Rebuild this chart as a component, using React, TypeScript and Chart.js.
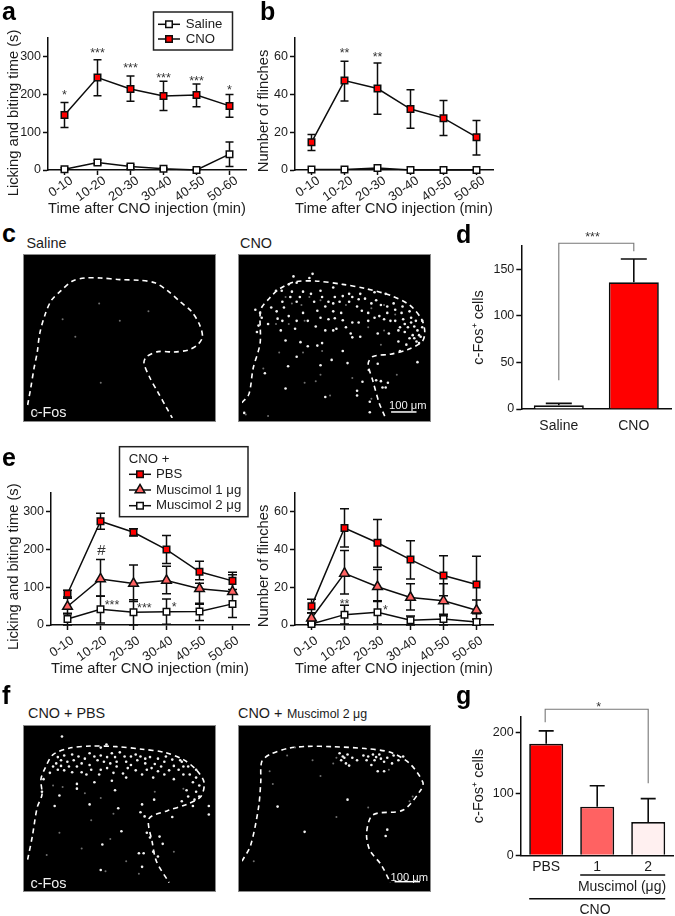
import React, { useEffect, useRef } from "react";
import { Chart, registerables } from "chart.js";
import { drawPoint } from "chart.js/helpers";

Chart.register(...registerables);

const FONT = '"Liberation Sans", Arial, sans-serif';
const INK = "#0c0c0c";
const TEXT = "#1c1c1c";
const RED = "#ff0000";
const PINK = "#ff6262";
const PALE = "#fff0f0";
const BRACKET = "#777777";
const STROKE = 1.5;

// ---------- time-course data ----------
const timeBins = ["0-10", "10-20", "20-30", "30-40", "40-50", "50-60"];
const xTitle = "Time after CNO injection (min)";

const aSaline = [2, 20, 9, 3, 0, 42];
const aSalineHi = [6, 26, 14, 6, 2, 74];
const aSalineLo = [0, 14, 4, 0, 0, 9];
const aCno = [146, 245, 215, 196, 199, 170];
const aCnoHi = [179, 292, 249, 235, 228, 200];
const aCnoLo = [113, 197, 182, 158, 168, 140];

const bSaline = [0.3, 0.3, 1, 0, 0, 0];
const bCno = [14.7, 47.4, 43.2, 32.3, 27.5, 17.4];
const bCnoHi = [18.8, 57.7, 56.7, 42.6, 36.8, 26.3];
const bCnoLo = [10.3, 36.6, 29.5, 22.2, 18.3, 8];

const eLickPbs = [83, 275, 246, 200, 141, 117];
const eLickPbsHi = [92, 296, 255, 237, 169, 140];
const eLickPbsLo = [74, 254, 236, 163, 120, 94];
const eLickM1 = [49, 122, 110, 118, 96, 88];
const eLickM1Hi = [71, 174, 159, 156, 111, 133];
const eLickM1Lo = [29, 76, 62, 83, 58, 83];
const eLickM2 = [16, 42, 34, 35, 36, 56];
const eLickM2Hi = [31, 77, 67, 69, 55, 83];
const eLickM2Lo = [0, 5, 0, 2, 12, 20];

const eFlinchPbs = [10, 51.4, 43.6, 34.7, 26.2, 21.5];
const eFlinchPbsHi = [13.7, 61.7, 56, 44.7, 36.7, 36.5];
const eFlinchPbsLo = [6.3, 41.3, 30.6, 24.4, 15.5, 6];
const eFlinchM1 = [3.6, 27.4, 20.3, 14.6, 12.8, 7.8];
const eFlinchM1Hi = [6.5, 39.5, 29.4, 21.9, 21.9, 13.2];
const eFlinchM1Lo = [0.7, 16.4, 12.5, 8, 4.8, 3];
const eFlinchM2 = [0.5, 5.5, 6.8, 2.5, 3.2, 1.6];
const eFlinchM2Hi = [1.5, 10.5, 12.8, 4.8, 5.7, 3];
const eFlinchM2Lo = [0, 0.5, 0.5, 0, 0, 0];

// significance marks: [category position, value, text]
const aStars: [number, number, string][] = [[0, 204, "*"], [1, 315, "***"], [2, 275, "***"], [3, 251, "***"], [4, 241, "***"], [5, 217, "*"]];
const bStars: [number, number, string][] = [[1, 63, "**"], [2, 61, "**"]];
const eLickStars: [number, number, string][] = [[1.35, 60, "***"], [2.33, 52, "***"], [3.23, 53, "*"]];
const eLickHash: [number, number, string][] = [[1.03, 197, "#"]];
const eFlinchStars: [number, number, string][] = [[1, 12.3, "**"], [2.24, 9.3, "*"]];

// ---------- bar data ----------
const dGroups = ["Saline", "CNO"];
const dMeans = [4, 136];
const dHi = [6, 161];
const gGroups = ["PBS", "1", "2"];
const gMeans = [181, 79, 54];
const gHi = [202, 113, 92];

// ---------- microscopy traces, in reference crop units ----------
const cLeftOutline = [[70, 565], [80, 510], [90, 450], [100, 400], [108, 340], [125, 280], [145, 235], [175, 205], [210, 175], [250, 165], [300, 165], [360, 170], [420, 172], [470, 180], [510, 205], [550, 240], [585, 270], [610, 310], [620, 350], [605, 375], [575, 392], [530, 398], [480, 397], [445, 412], [436, 432], [455, 480], [480, 525], [505, 570], [525, 606]];
const cLeftDim = [[295, 245], [180, 295], [450, 270], [300, 495], [100, 590], [220, 350], [360, 300]];

const cRightOutline = [[713, 558], [735, 530], [748, 450], [770, 370], [772, 265], [800, 228], [830, 200], [880, 177], [950, 175], [1030, 185], [1100, 198], [1180, 220], [1240, 250], [1278, 295], [1288, 335], [1280, 365], [1235, 390], [1180, 405], [1125, 412], [1110, 435], [1125, 490], [1145, 560], [1162, 600]];
const cRightBright = [[875, 160], [935, 152], [925, 165], [860, 185], [885, 180], [820, 205], [838, 205], [870, 208], [905, 208], [960, 205], [1000, 195], [1050, 215], [1085, 215], [1130, 210], [1165, 215], [1005, 225], [1030, 222], [1060, 225], [1080, 232], [1100, 230], [1135, 235], [940, 240], [885, 240], [845, 258], [805, 258], [755, 265], [775, 290], [825, 293], [860, 285], [905, 275], [950, 268], [975, 255], [1000, 245], [1025, 275], [1090, 268], [1145, 285], [1170, 275], [1190, 245], [1218, 255], [1240, 270], [1220, 295], [1245, 290], [1280, 300], [1255, 318], [1265, 330], [1280, 320], [1210, 320], [1225, 335], [1250, 345], [1275, 350], [1240, 355], [1205, 365], [1270, 370], [985, 295], [1005, 292], [1030, 298], [1060, 305], [1080, 305], [945, 318], [975, 330], [1010, 325], [1055, 340], [1060, 352], [1000, 330], [850, 362], [897, 367], [920, 380], [950, 378], [965, 370], [885, 413], [858, 443], [995, 423], [1045, 433], [1030, 395], [1140, 435], [1265, 430], [1112, 455], [1135, 487], [1150, 490], [1172, 495], [1165, 510], [1155, 510], [1092, 492], [850, 513], [1075, 520], [1075, 535], [1115, 555], [1115, 588], [975, 540], [765, 315], [795, 310], [760, 335], [835, 330], [880, 325], [1085, 350], [1140, 340], [1180, 300], [1205, 330], [770, 275], [720, 590], [785, 465], [960, 440], [1225, 310], [1245, 305], [1260, 300], [1270, 345], [1255, 355], [1262, 365], [1235, 320], [1195, 300], [1215, 275], [1195, 265], [1170, 255], [1150, 250], [1120, 245], [1110, 275], [1130, 290], [1160, 295], [1075, 255], [1050, 240], [1020, 240], [985, 240], [965, 225], [930, 215], [895, 225], [865, 225], [840, 240], [822, 270], [840, 300], [885, 300], [920, 300], [1000, 270], [960, 290], [1040, 320], [1110, 300], [1175, 340], [1230, 375], [1210, 395]];
const cRightDim = [[850, 225], [870, 245], [900, 250], [925, 225], [960, 235], [1040, 250], [1120, 260], [1160, 250], [1195, 280], [820, 310], [860, 310], [910, 300], [1110, 320], [1160, 330], [830, 400], [905, 400], [965, 395], [960, 470], [780, 450], [910, 495], [945, 490], [990, 535], [1150, 375], [1200, 470], [1060, 480], [1120, 545], [795, 600], [725, 595]];

const fLeftOutline = [[70, 595], [85, 520], [100, 430], [115, 390], [112, 340], [125, 305], [150, 262], [200, 242], [270, 235], [350, 237], [430, 245], [500, 255], [560, 278], [600, 310], [625, 350], [615, 395], [570, 420], [510, 440], [452, 465], [462, 540], [475, 600], [515, 668]];
const fLeftBright = [[178, 205], [318, 230], [300, 240], [165, 270], [185, 265], [210, 262], [265, 258], [300, 265], [335, 258], [360, 255], [395, 268], [425, 268], [455, 270], [505, 268], [550, 280], [555, 285], [160, 290], [195, 285], [215, 280], [240, 290], [290, 280], [310, 285], [350, 285], [380, 285], [415, 280], [440, 290], [470, 292], [500, 285], [575, 300], [600, 310], [165, 310], [185, 312], [210, 318], [240, 318], [270, 310], [300, 310], [320, 305], [350, 300], [385, 305], [410, 312], [445, 310], [480, 315], [515, 312], [545, 310], [580, 325], [140, 320], [120, 340], [225, 355], [225, 370], [280, 350], [335, 345], [380, 335], [465, 335], [530, 340], [600, 335], [115, 380], [170, 392], [265, 420], [345, 375], [355, 432], [430, 420], [425, 445], [438, 458], [468, 405], [610, 395], [595, 405], [555, 410], [575, 395], [640, 425], [590, 425], [155, 425], [365, 505], [445, 510], [455, 525], [485, 522], [495, 545], [420, 575], [435, 575], [465, 570], [480, 585], [305, 547], [300, 628], [430, 618], [640, 452], [525, 460], [175, 280], [230, 268], [250, 275], [280, 268], [320, 270], [345, 270], [375, 268], [410, 262], [440, 275], [480, 275], [525, 278], [530, 298], [560, 300], [490, 300], [460, 305], [395, 295], [330, 290], [265, 295], [225, 300], [200, 300], [175, 298], [150, 300], [255, 325], [295, 325], [340, 320], [370, 322], [430, 325], [500, 325], [560, 325], [590, 350], [610, 360], [570, 375], [600, 380]];
const fLeftDim = [[150, 360], [180, 365], [250, 385], [300, 400], [340, 450], [270, 470], [170, 510], [240, 560], [330, 530], [130, 580], [380, 600], [530, 570], [560, 370], [470, 380], [420, 640], [315, 632]];

const fRightOutline = [[713, 600], [740, 550], [765, 430], [772, 350], [775, 285], [800, 262], [860, 242], [920, 236], [1000, 237], [1100, 243], [1180, 255], [1240, 290], [1282, 350], [1275, 375], [1220, 438], [1125, 453], [1105, 510], [1115, 565], [1150, 610], [1180, 668]];
const fRightBright = [[1020, 258], [1045, 262], [1095, 265], [1125, 262], [1135, 270], [1190, 265], [1220, 268], [1025, 280], [1040, 290], [1050, 297], [1105, 280], [1130, 280], [1160, 285], [1185, 290], [1140, 315], [1160, 315], [1045, 405], [910, 507], [825, 427], [1165, 520], [1170, 500], [1030, 268], [1060, 272], [1075, 280], [1110, 268], [1145, 262], [1150, 275], [1170, 272], [1205, 280], [1035, 272], [1120, 295]];
const fRightDim = [[880, 240], [855, 265], [935, 280], [1010, 272], [1000, 290], [1250, 395], [1175, 310], [800, 315], [810, 355], [1010, 460], [1240, 410], [960, 330], [1110, 430], [750, 600]];

const toPts = (list: number[][]) => list.map(([x, y]) => ({ x, y }));

type Rect = { x: number; y: number; w: number; h: number };
type Plot = { left: number; top: number; right: number; bottom: number };

// ---------- plugins ----------
const errorPlugin = {
  id: "errorBars",
  beforeDatasetsDraw(chart: any, _a: any, opts: any) {
    const { ctx, scales } = chart;
    (opts.series || []).forEach((s: any) => {
      ctx.save();
      ctx.strokeStyle = INK;
      ctx.lineWidth = s.width ?? STROKE;
      s.hi.forEach((hi: number, i: number) => {
        const x = scales.x.getPixelForValue(i);
        const lo = s.lo ? s.lo[i] : s.mean[i];
        const yh = scales.y.getPixelForValue(hi);
        const yl = scales.y.getPixelForValue(lo);
        ctx.beginPath();
        ctx.moveTo(x, yh);
        ctx.lineTo(x, yl);
        const c = s.cap / 2;
        ctx.moveTo(x - c, yh);
        ctx.lineTo(x + c, yh);
        if (s.lo) {
          ctx.moveTo(x - c, yl);
          ctx.lineTo(x + c, yl);
        }
        ctx.stroke();
      });
      ctx.restore();
    });
  },
};

const notePlugin = {
  id: "notes",
  afterDatasetsDraw(chart: any, _a: any, opts: any) {
    const { ctx, scales } = chart;
    ctx.save();
    (opts.stars || []).forEach(([p, v, t]: [number, number, string]) => {
      const hash = t === "#";
      const size = hash ? 15 : 12.5;
      ctx.font = `${size}px ${FONT}`;
      ctx.fillStyle = "#333";
      ctx.textAlign = "center";
      ctx.textBaseline = "middle";
      ctx.fillText(t, scales.x.getPixelForValue(p), scales.y.getPixelForValue(v) + (hash ? 0 : size * 0.22));
    });
    (opts.brackets || []).forEach((b: any) => {
      ctx.strokeStyle = BRACKET;
      ctx.lineWidth = 1.1;
      ctx.beginPath();
      ctx.moveTo(scales.x.getPixelForValue(b.from), scales.y.getPixelForValue(b.fromLow));
      ctx.lineTo(scales.x.getPixelForValue(b.from), scales.y.getPixelForValue(b.top));
      ctx.lineTo(scales.x.getPixelForValue(b.to), scales.y.getPixelForValue(b.top));
      ctx.lineTo(scales.x.getPixelForValue(b.to), scales.y.getPixelForValue(b.toLow));
      ctx.stroke();
    });
    if (opts.yTitle) {
      ctx.save();
      ctx.translate(opts.yTitle.x, opts.yTitle.y);
      ctx.rotate(-Math.PI / 2);
      ctx.font = `14.7px ${FONT}`;
      ctx.fillStyle = TEXT;
      ctx.textAlign = "center";
      ctx.textBaseline = "middle";
      ctx.fillText(opts.yTitle.text, 0, 0);
      ctx.restore();
    }
    ctx.restore();
  },
};

const legendPlugin = {
  id: "boxLegend",
  afterDraw(chart: any, _a: any, opts: any) {
    if (!opts.box) return;
    const { ctx } = chart;
    ctx.save();
    ctx.strokeStyle = "#222";
    ctx.lineWidth = STROKE;
    ctx.fillStyle = "#fff";
    ctx.fillRect(opts.box.x, opts.box.y, opts.box.w, opts.box.h);
    ctx.strokeRect(opts.box.x, opts.box.y, opts.box.w, opts.box.h);
    ctx.font = `13.2px ${FONT}`;
    ctx.textBaseline = "middle";
    ctx.textAlign = "left";
    if (opts.heading) {
      ctx.fillStyle = TEXT;
      ctx.fillText(opts.heading.text, opts.heading.x, opts.heading.y);
    }
    chart.data.datasets.forEach((ds: any, i: number) => {
      const y = opts.rows[i];
      ctx.strokeStyle = INK;
      ctx.lineWidth = STROKE;
      ctx.beginPath();
      ctx.moveTo(opts.lineX, y);
      ctx.lineTo(opts.lineX + opts.lineW, y);
      ctx.stroke();
      ctx.fillStyle = ds.pointBackgroundColor;
      ctx.strokeStyle = INK;
      drawPoint(ctx, { pointStyle: ds.pointStyle, radius: ds.pointRadius, rotation: 0, borderWidth: STROKE }, opts.lineX + opts.lineW / 2, y);
      ctx.fillStyle = TEXT;
      ctx.fillText(ds.label, opts.textX, y);
    });
    ctx.restore();
  },
};

const micrographPlugin = {
  id: "micrograph",
  beforeDraw(chart: any) {
    const { ctx, width, height } = chart;
    ctx.save();
    ctx.fillStyle = "#000";
    ctx.fillRect(0, 0, width, height);
    ctx.restore();
  },
  afterDraw(chart: any) {
    const { ctx, width, height } = chart;
    ctx.save();
    ctx.strokeStyle = "#8a8a8a";
    ctx.lineWidth = 1;
    ctx.strokeRect(0.5, 0.5, width - 1, height - 1);
    ctx.restore();
  },
};

// ---------- config builders ----------
function axisStyle() {
  return {
    border: { color: INK, width: STROKE },
    grid: { drawOnChartArea: false, drawTicks: true, tickLength: 5, tickColor: INK, tickWidth: STROKE },
  };
}

function layoutFor(r: Rect, p: Plot) {
  return {
    padding: { left: 0, top: p.top - r.y, right: r.x + r.w - p.right, bottom: 0 },
  };
}

function lineConfig(r: Rect, p: Plot, yMax: number, step: number, yTitle: any, datasets: any[], errs: any[], stars: any[], legend: any, tickPad: number, tickShift: number) {
  return {
    type: "line",
    data: { labels: timeBins, datasets },
    plugins: [errorPlugin, notePlugin, legendPlugin],
    options: {
      animation: false,
      responsive: false,
      devicePixelRatio: 1,
      layout: layoutFor(r, p),
      plugins: {
        legend: { display: false },
        tooltip: { enabled: false },
        errorBars: { series: errs },
        notes: { stars, yTitle: { ...yTitle, x: yTitle.x - r.x, y: yTitle.y - r.y } },
        boxLegend: legend,
      },
      scales: {
        x: {
          type: "category",
          offset: true,
          ...axisStyle(),
          ticks: { minRotation: 35, maxRotation: 35, autoSkip: false, color: TEXT, font: { family: FONT, size: 13 }, padding: tickPad, labelOffset: tickShift },
          title: { display: true, text: xTitle, color: TEXT, font: { family: FONT, size: 14.7 }, padding: 0 },
          afterFit(s: any) { s.height = r.y + r.h - p.bottom; },
        },
        y: {
          type: "linear",
          min: 0,
          max: yMax,
          ...axisStyle(),
          ticks: { stepSize: step, includeBounds: false, color: TEXT, font: { family: FONT, size: 12.5 }, padding: 2 },
          afterFit(s: any) { s.width = p.left - r.x; },
        },
      },
    },
  };
}

function series(label: string, data: number[], fill: string, style = "rect", radius = 4.6) {
  return {
    label,
    data,
    borderColor: INK,
    borderWidth: STROKE,
    pointBackgroundColor: fill,
    pointBorderColor: INK,
    pointBorderWidth: STROKE,
    pointStyle: style,
    pointRadius: radius,
    tension: 0,
    clip: false,
  };
}

function barConfig(r: Rect, p: Plot, labels: string[], data: number[], colors: string[], hi: number[], cap: number, yMax: number, step: number, padX: number, brackets: any[], stars: any[], underlines: any[]) {
  const underlinePlugin = {
    id: "underlines",
    afterDraw(chart: any) {
      const { ctx, scales } = chart;
      ctx.save();
      ctx.strokeStyle = INK;
      ctx.lineWidth = STROKE;
      underlines.forEach((u: any) => {
        ctx.beginPath();
        ctx.moveTo(scales.x.getPixelForValue(u.from) - 17, u.y - r.y);
        ctx.lineTo(scales.x.getPixelForValue(u.to) + 17, u.y - r.y);
        ctx.stroke();
      });
      ctx.restore();
    },
  };
  return {
    type: "bar",
    data: {
      labels,
      datasets: [{ label: "c-Fos+ cells", data, backgroundColor: colors, borderColor: INK, borderWidth: 1.7, barPercentage: 0.667, categoryPercentage: 1 }],
    },
    plugins: [notePlugin, errorPlugin, underlinePlugin],
    options: {
      animation: false,
      responsive: false,
      devicePixelRatio: 1,
      layout: layoutFor(r, p),
      plugins: {
        legend: { display: false },
        tooltip: { enabled: false },
        errorBars: { series: [{ hi, mean: data, cap, width: 1.6 }] },
        notes: { stars, brackets },
      },
      scales: {
        x: {
          type: "category",
          border: { color: INK, width: STROKE },
          grid: { display: false },
          ticks: { color: TEXT, font: { family: FONT, size: 14 }, padding: padX, maxRotation: 0 },
          afterFit(s: any) { s.height = r.y + r.h - p.bottom; },
        },
        y: {
          type: "linear",
          min: 0,
          max: yMax,
          ...axisStyle(),
          ticks: { stepSize: step, includeBounds: false, color: TEXT, font: { family: FONT, size: 12.5 }, padding: 2 },
          title: { display: true, text: "c-Fos⁺ cells", color: TEXT, font: { family: FONT, size: 14.5 }, padding: { top: 5.5, bottom: 0 } },
          afterFit(s: any) { s.width = p.left - r.x; },
        },
      },
    },
  };
}

function micrographConfig(xRange: number[], yRange: number[], outline: number[][], bright: number[][], dim: number[][], scaleBar?: number[][]) {
  const datasets: any[] = [
    { label: "dim cells", data: toPts(dim), pointRadius: 1, pointBorderWidth: 0, pointBackgroundColor: "#707070", showLine: false },
    { label: "c-Fos cells", data: toPts(bright), pointRadius: 1.3, pointBorderWidth: 0, pointBackgroundColor: "#f2f2f2", showLine: false },
    { label: "outline", data: toPts(outline), showLine: true, borderColor: "#ffffff", borderWidth: 1.6, borderDash: [5, 4], pointRadius: 0, tension: 0.3 },
  ];
  if (scaleBar) datasets.push({ label: "scale bar", data: toPts(scaleBar), showLine: true, borderColor: "#ffffff", borderWidth: 1.5, pointRadius: 0 });
  return {
    type: "scatter",
    data: { datasets },
    plugins: [micrographPlugin],
    options: {
      animation: false,
      responsive: false,
      devicePixelRatio: 1,
      layout: { padding: 0 },
      plugins: { legend: { display: false }, tooltip: { enabled: false } },
      scales: {
        x: { type: "linear", display: false, min: xRange[0], max: xRange[1] },
        y: { type: "linear", display: false, reverse: true, min: yRange[0], max: yRange[1] },
      },
    },
  };
}

// ---------- components ----------
function Panel({ rect, make }: { rect: Rect; make: () => any }) {
  const ref = useRef<HTMLCanvasElement>(null);
  useEffect(() => {
    const chart = new Chart(ref.current as any, make());
    return () => chart.destroy();
  }, []);
  return <canvas ref={ref} width={rect.w} height={rect.h} style={{ position: "absolute", left: rect.x, top: rect.y, width: rect.w, height: rect.h }} />;
}

function Label({ text, x, y, size = 14.4, color = TEXT, weight = 400, anchor = "left" }: any) {
  return (
    <span style={{ position: "absolute", left: x, top: y, transform: `translate(${anchor === "center" ? "-50%" : "0"}, -50%)`, font: `${weight} ${size}px/1 ${FONT}`, color, whiteSpace: "nowrap", zIndex: 5 }}>
      {text}
    </span>
  );
}

const rectA: Rect = { x: 0, y: 0, w: 262, h: 218 };
const plotA: Plot = { left: 48, top: 38, right: 246, bottom: 170 };
const rectB: Rect = { x: 250, y: 0, w: 262, h: 218 };
const plotB: Plot = { left: 295, top: 38, right: 493, bottom: 170 };
const rectEL: Rect = { x: 0, y: 430, w: 262, h: 248 };
const plotEL: Plot = { left: 51, top: 493, right: 249, bottom: 625 };
const rectER: Rect = { x: 250, y: 430, w: 262, h: 248 };
const plotER: Plot = { left: 295, top: 493, right: 493, bottom: 625 };
const rectD: Rect = { x: 465, y: 226, w: 210, h: 214 };
const plotD: Plot = { left: 521.3, top: 246, right: 671.3, bottom: 409 };
const rectG: Rect = { x: 465, y: 695, w: 210, h: 221 };
const plotG: Plot = { left: 520.7, top: 716.7, right: 673.7, bottom: 855.3 };

export default function App() {
  return (
    <div style={{ position: "absolute", left: 0, top: 0, width: 675, height: 916, overflow: "hidden", background: "#fff", filter: "blur(0.3px)" }}>
      <Panel rect={rectA} make={() => lineConfig(rectA, plotA, 350, 100, { text: "Licking and biting time (s)", x: 13.6, y: 113 },
        [series("Saline", aSaline, "#ffffff"), series("CNO", aCno, RED)],
        [{ hi: aSalineHi, lo: aSalineLo, cap: 8 }, { hi: aCnoHi, lo: aCnoLo, cap: 8 }],
        aStars,
        { box: { x: 153.5, y: 12, w: 79, h: 38 }, rows: [24.3, 39], lineX: 158, lineW: 22, textX: 185.7 }, -2, 7)} />
      <Panel rect={rectB} make={() => lineConfig(rectB, plotB, 70, 20, { text: "Number of flinches", x: 263.8, y: 111 },
        [series("Saline", bSaline, "#ffffff"), series("CNO", bCno, RED)],
        [{ hi: bCnoHi, lo: bCnoLo, cap: 8 }],
        bStars, {}, -2, 7)} />
      <Panel rect={rectD} make={() => barConfig(rectD, plotD, dGroups, dMeans, ["#ffffff", RED], dHi, 26, 175, 50, 1,
        [{ from: 0, fromLow: 31, to: 1, toLow: 169.4, top: 178 }], [[0.45, 186.6, "***"]], [])} />
      <Panel rect={rectEL} make={() => lineConfig(rectEL, plotEL, 350, 100, { text: "Licking and biting time (s)", x: 13.6, y: 566.7 },
        [series("PBS", eLickPbs, RED), series("Muscimol 1 μg", eLickM1, PINK, "triangle", 5.6), series("Muscimol 2 μg", eLickM2, "#ffffff")],
        [{ hi: eLickPbsHi, lo: eLickPbsLo, cap: 9 }, { hi: eLickM1Hi, lo: eLickM1Lo, cap: 9 }, { hi: eLickM2Hi, lo: eLickM2Lo, cap: 9 }],
        [...eLickStars, ...eLickHash],
        { box: { x: 119.5, y: 16.7, w: 128.5, h: 70 }, heading: { text: "CNO +", x: 128.7, y: 29 }, rows: [44.3, 60, 75.7], lineX: 129, lineW: 22, textX: 156 }, 3, 5)} />
      <Panel rect={rectER} make={() => lineConfig(rectER, plotER, 70, 20, { text: "Number of flinches", x: 263.8, y: 566 },
        [series("PBS", eFlinchPbs, RED), series("Muscimol 1 μg", eFlinchM1, PINK, "triangle", 5.6), series("Muscimol 2 μg", eFlinchM2, "#ffffff")],
        [{ hi: eFlinchPbsHi, lo: eFlinchPbsLo, cap: 9 }, { hi: eFlinchM1Hi, lo: eFlinchM1Lo, cap: 9 }, { hi: eFlinchM2Hi, lo: eFlinchM2Lo, cap: 9 }],
        eFlinchStars, {}, 3, 5)} />
      <Panel rect={rectG} make={() => barConfig(rectG, plotG, gGroups, gMeans, [RED, PINK, PALE], gHi, 15, 225, 100, -5,
        [{ from: -0.02, fromLow: 216, to: 2, toLow: 117, top: 237 }], [[1.03, 245, "*"]],
        [{ from: 1, to: 2, y: 875 }, { from: 0, to: 2, y: 898.7 }])} />

      <Panel rect={{ x: 23, y: 254, w: 193, h: 168 }} make={() => micrographConfig([68, 650], [102, 606], cLeftOutline, [], cLeftDim)} />
      <Panel rect={{ x: 238, y: 254, w: 193, h: 168 }} make={() => micrographConfig([713, 1295], [102, 606], cRightOutline, cRightBright, cRightDim, [[1182, 587], [1262, 587]])} />
      <Panel rect={{ x: 23, y: 725, w: 193, h: 167 }} make={() => micrographConfig([68, 650], [181, 685], fLeftOutline, fLeftBright, fLeftDim)} />
      <Panel rect={{ x: 238, y: 725, w: 193, h: 167 }} make={() => micrographConfig([713, 1295], [181, 685], fRightOutline, fRightBright, fRightDim, [[1193, 665], [1273, 665]])} />

      <Label text="a" x={2} y={11} size={25} weight={700} color="#000" />
      <Label text="b" x={260} y={11} size={25} weight={700} color="#000" />
      <Label text="c" x={2} y={233} size={25} weight={700} color="#000" />
      <Label text="d" x={456} y={234} size={25} weight={700} color="#000" />
      <Label text="e" x={2} y={457} size={25} weight={700} color="#000" />
      <Label text="f" x={2} y={695} size={25} weight={700} color="#000" />
      <Label text="g" x={456} y={695} size={25} weight={700} color="#000" />

      <Label text="Saline" x={26.5} y={242.5} />
      <Label text="CNO" x={240} y={242.5} />
      <Label text="c-Fos" x={30.5} y={411.5} color="#f0f0f0" />
      <Label text="100 μm" x={389} y={405.5} size={11.2} color="#f0f0f0" />
      <Label text="CNO + PBS" x={28} y={713} />
      <Label text="CNO + " x={238} y={713} />
      <Label text="Muscimol 2 μg" x={287} y={714} size={12.4} />
      <Label text="c-Fos" x={30.5} y={883} color="#f0f0f0" />
      <Label text="100 μm" x={390.5} y={878} size={11.2} color="#f0f0f0" />
      <Label text="Muscimol (μg)" x={622} y={886} size={14} anchor="center" />
      <Label text="CNO" x={595} y={909} size={14} anchor="center" />
    </div>
  );
}
